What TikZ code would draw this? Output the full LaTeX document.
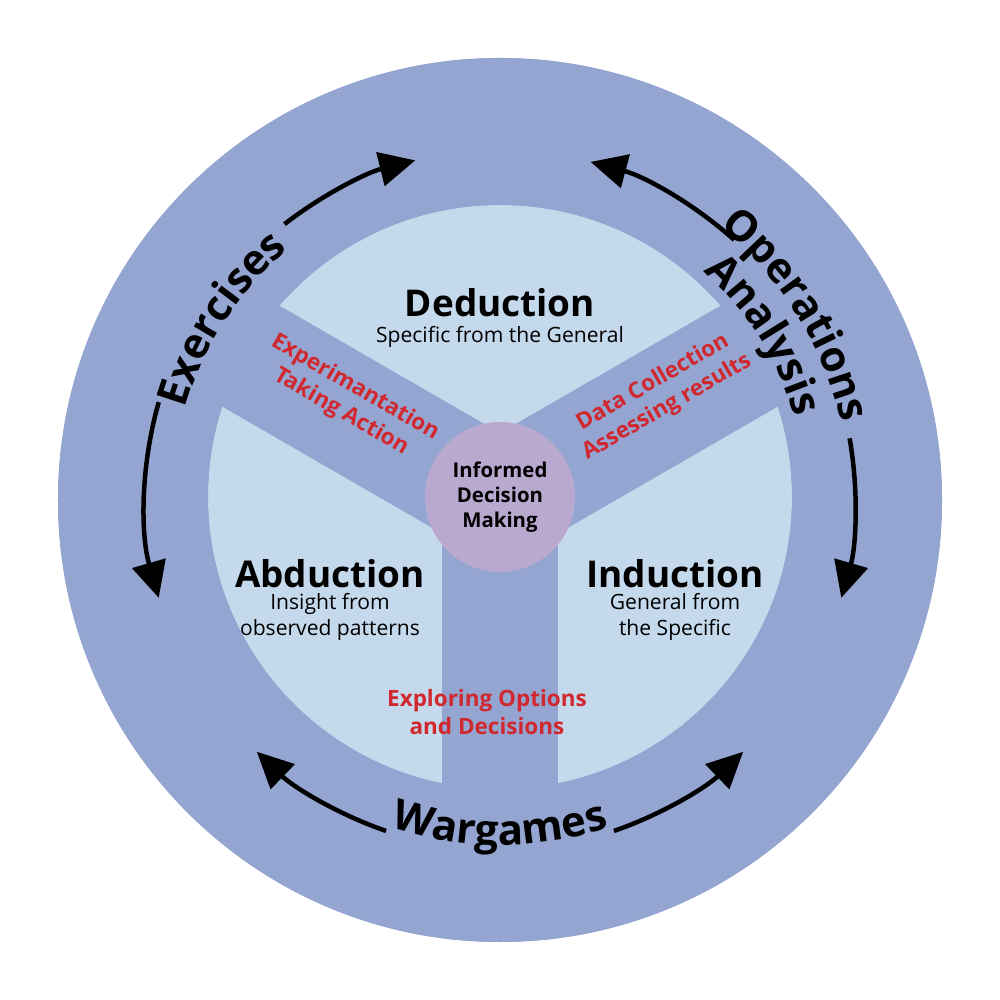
\documentclass[tikz,border=0pt]{standalone}
\usepackage{fontspec}
\setmainfont{Open Sans}
\usetikzlibrary{arrows.meta,decorations.text}
\definecolor{outer}{HTML}{95A5D2}
\definecolor{inner}{HTML}{C5D9EC}
\definecolor{hub}{HTML}{B9A9CF}
\definecolor{lab}{HTML}{D0282E}
\tikzset{
 arr/.style={line width=0.45mm,-{Triangle[length=3.6mm,width=3.4mm]}},
 big/.style={font=\fontsize{10.5pt}{12pt}\selectfont\bfseries},
 sub/.style={font=\fontsize{6pt}{7.5pt}\selectfont,align=center},
 red/.style={text=lab,font=\fontsize{6.4pt}{8pt}\selectfont\bfseries,align=center},
 curv/.style={decorate,decoration={text along path,text align=center,
   text={|\fontsize{12pt}{14pt}\selectfont\bfseries|#1}}}
}
\begin{document}
\begin{tikzpicture}
\useasboundingbox (-5,-5) rectangle (5,5);
\fill[outer] (0,0) circle (4.42);
\fill[inner] (0,0.03) circle (2.92);
\foreach \a in {30,150,270}
  \draw[outer,line width=1.16cm] (0,0) -- (\a:3.1);
\fill[outer,even odd rule] (0,0) circle (4.42) (0,0.03) circle (2.92);
\node[circle,fill=hub,minimum size=1.5cm,inner sep=0pt,
  font=\fontsize{5.8pt}{7.2pt}\selectfont\bfseries,align=center] (hubn) at (0,0.03)
  {Informed\\Decision\\Making};
% labels
\node[big] (ded) at (0,1.97) {Deduction};
\node[sub] (dedS) at (0,1.63) {Specific from the General};
\node[big] (abd) at (-1.7,-0.74) {Abduction};
\node[sub] (abdS) at (-1.7,-1.17) {Insight from\\observed patterns};
\node[big] (ind) at (1.75,-0.74) {Induction};
\node[sub] (indS) at (1.75,-1.17) {General from\\the Specific};
\node[red,rotate=-30] (exp) at (-1.52,1.0) {Experimantation\\Taking Action};
\node[red,rotate=30] (dat) at (1.6,1.05) {Data Collection\\Assessing results};
\node[red] (opt) at (-0.13,-2.12) {Exploring Options\\and Decisions};
% curved titles
\path[curv={Exercises}] (170:3.28) arc (170:124:3.28);
\path[curv={Operations}] (62:3.5) arc (62:2:3.5);
\path[curv={Analysis}] (55:3.06) arc (55:9:3.06);
\path[curv={Wargames}] (248:3.45) arc (248:292:3.45);
% arrows
\coordinate (a1) at (128:3.5);
\draw[arr] (a1) arc (128:104:3.5);
\coordinate (a2) at (164:3.55);
\draw[arr] (a2) arc (164:196:3.55);
\coordinate (a3) at (48:3.5);
\draw[arr] (a3) arc (48:75:3.5);
\coordinate (a4) at (10:3.55);
\draw[arr] (a4) arc (10:-16:3.55);
\coordinate (a5) at (251:3.5);
\draw[arr] (a5) arc (251:226:3.5);
\coordinate (a6) at (289:3.5);
\draw[arr] (a6) arc (289:314:3.5);
\end{tikzpicture}
\end{document}
